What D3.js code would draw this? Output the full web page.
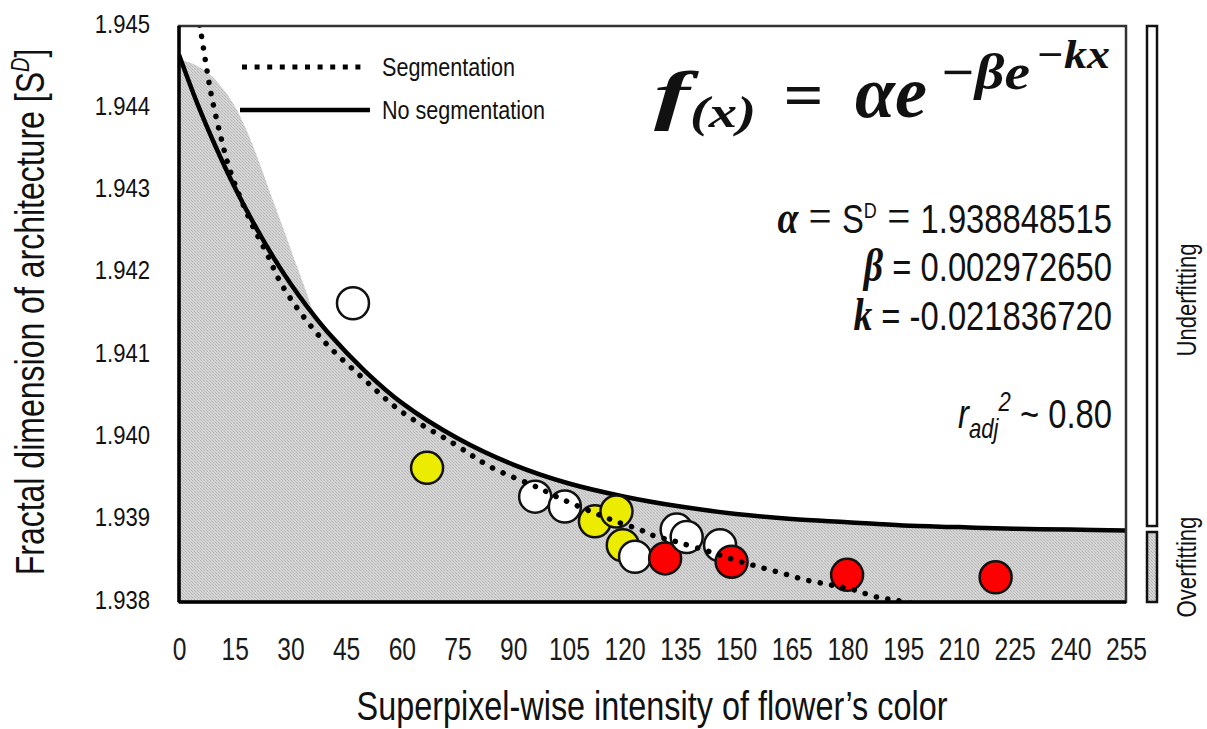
<!DOCTYPE html>
<html>
<head>
<meta charset="utf-8">
<script src="https://cdn.jsdelivr.net/npm/d3@7"></script>
<style>
  html, body { margin: 0; padding: 0; background: #fff; }
  svg { display: block; }
  .narrow { font-family: "Liberation Sans", Arial, sans-serif; }
  .math { font-family: "Liberation Serif", "DejaVu Serif", serif; font-weight: bold; font-style: italic; }
  .mathEq { font-family: "Liberation Serif", "DejaVu Serif", serif; }
</style>
</head>
<body>
<svg id="chart" width="1207" height="729"></svg>
<script>
// ---------------- data ----------------
const xTicks = [0, 15, 30, 45, 60, 75, 90, 105, 120, 135, 150, 165, 180, 195, 210, 225, 240, 255];
const yTicks = [1.938, 1.939, 1.940, 1.941, 1.942, 1.943, 1.944, 1.945];

// "No segmentation" fitted curve
const solidX = [0, 5, 10, 15, 20, 25, 30, 35, 40, 50, 60, 75, 90, 105, 120, 135, 150, 165, 180, 195, 210, 225, 240, 255];
const solidY = [1.94465, 1.94405, 1.94352, 1.94304, 1.94261, 1.94222, 1.94187, 1.94156, 1.94128, 1.94081, 1.94042, 1.93999,
                1.93967, 1.93944, 1.93928, 1.93916, 1.93907, 1.93901, 1.93897, 1.93893, 1.93891, 1.93889, 1.93888, 1.93887];

// "Segmentation" fitted curve
const dottedX = [5.0, 5.8, 7.5, 8.8, 11.0, 13.7, 19.1, 23.6, 28.0, 38, 50, 60, 73.8, 84, 96.7, 102.6, 112, 118.2, 124.1, 127.6,
                 134.1, 143, 149.7, 155.9, 162.4, 168.6, 175.2, 181.5, 187.9, 195.5, 210, 230];
const dottedY = [1.94515, 1.94495, 1.94447, 1.94414, 1.94370, 1.94325, 1.94264, 1.94224, 1.94183, 1.94122, 1.94070, 1.94031,
                 1.93993, 1.93964, 1.93939, 1.93926, 1.93908, 1.93897, 1.93888, 1.93881, 1.93873, 1.93861, 1.93851, 1.93843,
                 1.93835, 1.93827, 1.93821, 1.93815, 1.93806, 1.93800, 1.93782, 1.93758];

// upper edge of the shaded (overfitting) region
const shadeX = [0, 4.3, 8.3, 11.6, 15.1, 18.3, 21.3, 24.5, 28.0, 31.5, 33.9, 36, 40, 50, 60, 75, 90, 105, 120, 135, 150, 165, 180, 195, 210, 225, 240, 255];
const shadeY = [1.94459, 1.94453, 1.94441, 1.94425, 1.94402, 1.94372, 1.94338, 1.94298, 1.94255, 1.94211, 1.94182, 1.94155,
                1.94128, 1.94081, 1.94042, 1.93999, 1.93967, 1.93944, 1.93928, 1.93916, 1.93907, 1.93901, 1.93897, 1.93893,
                1.93891, 1.93889, 1.93888, 1.93887];

// observations
const pointX = [46.85, 66.8, 95.9, 103.9, 112.0, 119.5, 117.8, 122.8, 134.0, 130.9, 136.7, 145.7, 148.8, 179.9, 219.9];
const pointY = [1.94163, 1.93963, 1.93928, 1.93916, 1.93898, 1.93869, 1.93910, 1.93855, 1.93888, 1.93853, 1.93879, 1.93869, 1.93849, 1.93833, 1.93830];
const pointColor = ["#ffffff", "#ecec00", "#ffffff", "#ffffff", "#ecec00", "#ecec00", "#ecec00", "#ffffff", "#ffffff", "#ff0000",
                    "#ffffff", "#ffffff", "#ff0000", "#ff0000", "#ff0000"];

const legendLabels = ["Segmentation", "No segmentation"];
const params = { alpha: "1.938848515", beta: "0.002972650", k: "-0.021836720", r2: "0.80" };

// ---------------- drawing ----------------
const svg = d3.select("#chart");
const x = d3.scaleLinear().domain([0, 255]).range([179, 1126]);
const y = d3.scaleLinear().domain([1.938, 1.945]).range([602, 26]);

const defs = svg.append("defs");
const pat = defs.append("pattern").attr("id", "hatch").attr("patternUnits", "userSpaceOnUse")
  .attr("width", 3).attr("height", 3);
pat.append("rect").attr("width", 3).attr("height", 3).attr("fill", "#d6d6d6");
pat.append("rect").attr("x", 0).attr("y", 0).attr("width", 1).attr("height", 1).attr("fill", "#b4b4b4");
pat.append("rect").attr("x", 1).attr("y", 1).attr("width", 1).attr("height", 1).attr("fill", "#c2c2c2");
pat.append("rect").attr("x", 2).attr("y", 2).attr("width", 1).attr("height", 1).attr("fill", "#b4b4b4");

defs.append("clipPath").attr("id", "plotClip").append("rect")
  .attr("x", x(0)).attr("y", y(1.945)).attr("width", x(255) - x(0)).attr("height", y(1.938) - y(1.945));

const plot = svg.append("g").attr("clip-path", "url(#plotClip)");

// shaded region
const shadeData = shadeX.map((d, i) => [d, shadeY[i]]);
plot.append("path")
  .datum(shadeData)
  .attr("fill", "url(#hatch)")
  .attr("d", d3.area().x(d => x(d[0])).y0(y(1.938)).y1(d => y(d[1])).curve(d3.curveMonotoneX));

// solid curve
const solidData = solidX.map((d, i) => [d, solidY[i]]);
plot.append("path").datum(solidData)
  .attr("fill", "none").attr("stroke", "#000").attr("stroke-width", 4.5)
  .attr("d", d3.line().x(d => x(d[0])).y(d => y(d[1])).curve(d3.curveCatmullRom));

// points
plot.selectAll("circle.pt").data(pointX.map((d, i) => ({ x: d, y: pointY[i], c: pointColor[i] })))
  .join("circle").attr("class", "pt")
  .attr("cx", d => x(d.x)).attr("cy", d => y(d.y)).attr("r", 16)
  .attr("fill", d => d.c).attr("stroke", "#111").attr("stroke-width", 2.5);

// dotted curve
const dottedData = dottedX.map((d, i) => [d, dottedY[i]]);
plot.append("path").datum(dottedData)
  .attr("fill", "none").attr("stroke", "#000").attr("stroke-width", 5.5)
  .attr("stroke-linecap", "round").attr("stroke-dasharray", "0.1 11.5")
  .attr("d", d3.line().x(d => x(d[0])).y(d => y(d[1])).curve(d3.curveCatmullRom));

// frame
svg.append("rect").attr("x", x(0)).attr("y", y(1.945)).attr("width", x(255) - x(0)).attr("height", y(1.938) - y(1.945))
  .attr("fill", "none").attr("stroke", "#333").attr("stroke-width", 2.5);
svg.append("line").attr("x1", x(0)).attr("x2", x(0)).attr("y1", y(1.945)).attr("y2", y(1.938))
  .attr("stroke", "#000").attr("stroke-width", 3.5);
svg.append("line").attr("x1", x(0)).attr("x2", x(255)).attr("y1", y(1.938)).attr("y2", y(1.938))
  .attr("stroke", "#000").attr("stroke-width", 3.5);

// axes (labels only)
const yAxis = d3.axisLeft(y).tickValues(yTicks).tickFormat(d3.format(".3f")).tickSize(0).tickPadding(0);
const gy = svg.append("g").attr("transform", `translate(${x(0)},0)`).call(yAxis);
gy.select(".domain").remove();
gy.attr("font-family", null).attr("font-size", null);
gy.selectAll("text").attr("font-family", "Liberation Sans, Arial, sans-serif").attr("font-size", 26).attr("fill", "#111")
  .attr("x", 0).attr("dy", null).attr("y", 0).attr("transform", "translate(-29,6) scale(0.85,1)");

const xAxis = d3.axisBottom(x).tickValues(xTicks).tickFormat(d3.format("d")).tickSize(0).tickPadding(0);
const gx = svg.append("g").attr("transform", `translate(0,${y(1.938)})`).call(xAxis);
gx.select(".domain").remove();
gx.attr("font-family", null).attr("font-size", null);
gx.selectAll("text").attr("class", "narrow").attr("font-size", 32).attr("fill", "#1a1a1a")
  .attr("dy", null).attr("y", 0).attr("transform", "translate(0,58) scale(0.77,1)");

// helper for condensed text
function narrow(parent, tx, ty, rot, size, anchor, sx) {
  const g = parent.append("g").attr("transform", `translate(${tx},${ty})${rot ? " rotate(" + rot + ")" : ""} scale(${sx || 0.8},1)`);
  return g.append("text").attr("class", "narrow").attr("font-size", size).attr("fill", "#111").attr("text-anchor", anchor || "start");
}

// axis titles
narrow(svg, 652, 720, 0, 41, "middle", 0.79).text("Superpixel-wise intensity of flower\u2019s color");
const yt = narrow(svg, 44, 312, -90, 40, "middle", 0.8);
yt.append("tspan").text("Fractal dimension of architecture [S");
yt.append("tspan").attr("font-size", 25).attr("font-style", "italic").attr("dy", -15).text("D");
yt.append("tspan").attr("dy", 15).text("]");

// legend
const legY = [67, 110];
svg.append("line").attr("x1", 242).attr("x2", 368).attr("y1", legY[0]).attr("y2", legY[0])
  .attr("stroke", "#000").attr("stroke-width", 5).attr("stroke-dasharray", "5 7.6");
svg.append("line").attr("x1", 240).attr("x2", 370).attr("y1", legY[1]).attr("y2", legY[1])
  .attr("stroke", "#000").attr("stroke-width", 4.5);
legendLabels.forEach((d, i) => narrow(svg, 382, legY[i] + 9, 0, 26, "start", 0.83).text(d));

// formula
const fm = svg.append("g").attr("class", "math").attr("fill", "#111");
function piece(tx, ty, size, len, s) {
  fm.append("text").attr("x", tx).attr("y", ty).attr("font-size", size)
    .attr("textLength", len).attr("lengthAdjust", "spacingAndGlyphs").text(s);
}
piece(654, 117, 66, 36, "f");
piece(690, 127, 44, 66, "(x)");
piece(783, 117, 64, 40, "=");
piece(855, 117, 74, 72, "\u03b1e");
piece(940, 89, 50, 90, "\u2212\u03b2e");
piece(1036, 68, 40, 74, "\u2212kx");

// parameters
const pr = 1112;
function paramLine(ty) {
  return narrow(svg, pr, ty, 0, 40, "end", 0.82);
}
const t1 = paramLine(233);
t1.append("tspan").attr("class", "math").attr("font-size", 46).text("\u03b1");
t1.append("tspan").attr("class", "mathEq").attr("font-size", 50).text(" = ");
t1.append("tspan").text("S");
t1.append("tspan").attr("font-size", 22).attr("dy", -15).text("D");
t1.append("tspan").attr("class", "mathEq").attr("font-size", 50).attr("dy", 15).text(" = ");
t1.append("tspan").text(params.alpha);

const t2 = paramLine(281);
t2.append("tspan").attr("class", "math").attr("font-size", 46).text("\u03b2");
t2.append("tspan").text(" = " + params.beta);

const t3 = paramLine(330);
t3.append("tspan").attr("class", "math").attr("font-size", 46).text("k");
t3.append("tspan").text(" = " + params.k);

const t4 = paramLine(428);
t4.append("tspan").attr("font-style", "italic").text("r");
t4.append("tspan").attr("font-style", "italic").attr("font-size", 27).attr("dy", 10).text("adj");
t4.append("tspan").attr("font-style", "italic").attr("font-size", 27).attr("dy", -27).text("2");
t4.append("tspan").attr("dy", 17).text(" ~ " + params.r2);

// side bars
svg.append("rect").attr("x", 1147).attr("y", y(1.945)).attr("width", 10).attr("height", 526 - y(1.945))
  .attr("fill", "#fff").attr("stroke", "#111").attr("stroke-width", 2.5);
svg.append("rect").attr("x", 1147).attr("y", 532).attr("width", 10).attr("height", y(1.938) - 532)
  .attr("fill", "url(#hatch)").attr("stroke", "#111").attr("stroke-width", 2.5);
narrow(svg, 1196, 300, -90, 27, "middle", 0.82).text("Underfitting");
narrow(svg, 1196, 567, -90, 27, "middle", 0.82).text("Overfitting");
</script>
</body>
</html>
